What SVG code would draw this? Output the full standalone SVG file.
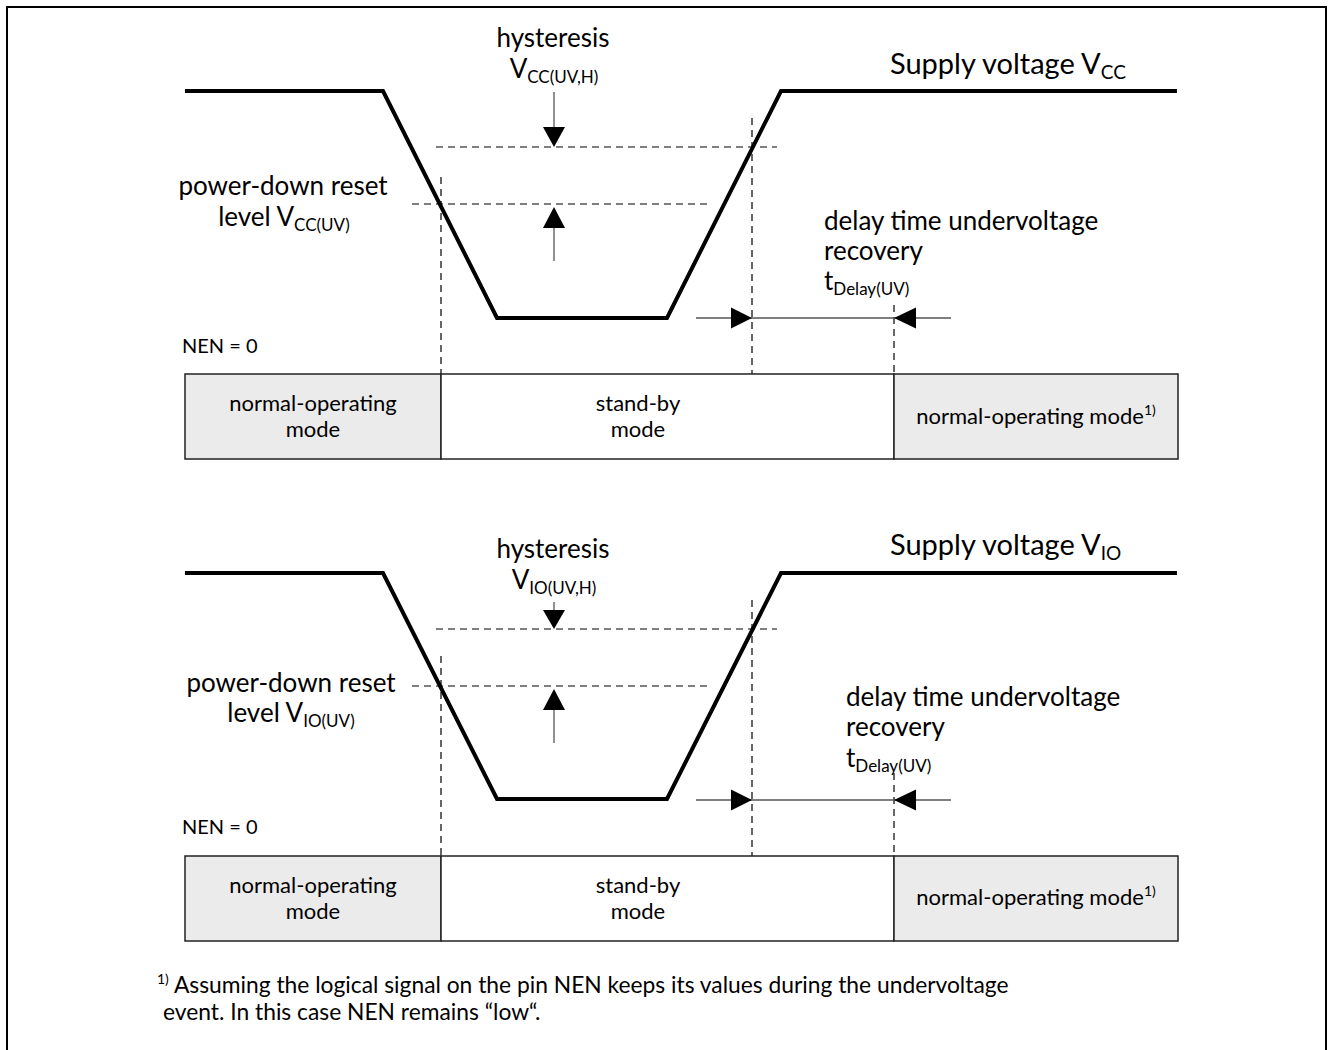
<svg xmlns="http://www.w3.org/2000/svg" width="1333" height="1050" viewBox="0 0 1333 1050">
<style>
text{font-family:Lato,"Liberation Sans",sans-serif;fill:#000}
.lbl{font-size:26px}
.big{font-size:29px}
.box{font-size:22px}
.nen{font-size:20px}
.fn{font-size:22.8px}
.wave{fill:none;stroke:#000;stroke-width:4;stroke-linejoin:miter}
.dash{fill:none;stroke:#000;stroke-width:1.2;stroke-dasharray:7 5}
.thin{fill:none;stroke:#555;stroke-width:1.3}
.head{fill:#000}
.gray{fill:#ebebeb;stroke:#222;stroke-width:1.5}
.white{fill:#fff;stroke:#222;stroke-width:1.5}
.mid{text-anchor:middle}
</style>
<rect x="0" y="0" width="1333" height="1050" fill="#fff"/>
<g id="frame"><path d="M7,1050 V7 H1326 V1050" fill="none" stroke="#000" stroke-width="2"/></g>

<!-- ===== TOP PANEL ===== -->
<g id="vcc-waveform"><path class="wave" d="M185,91 H383 L497,318 H667 L781,91 H1177"/></g>
<g id="top-connectors">
  <line class="dash" x1="436" y1="147" x2="777" y2="147"/>
  <line class="dash" x1="412" y1="204" x2="712" y2="204"/>
  <line class="dash" x1="441" y1="177" x2="441" y2="374"/>
  <line class="dash" x1="752" y1="118" x2="752" y2="374"/>
  <line class="dash" x1="894" y1="305" x2="894" y2="374"/>
  <line class="thin" x1="554" y1="92" x2="554" y2="128"/>
  <polygon class="head" points="543,127 565,127 554,147"/>
  <line class="thin" x1="554" y1="227" x2="554" y2="261"/>
  <polygon class="head" points="543,228 565,228 554,207"/>
  <line class="thin" x1="696" y1="318" x2="951" y2="318"/>
  <polygon class="head" points="731,307.5 731,328.5 752,318"/>
  <polygon class="head" points="916,307.5 916,328.5 894,318"/>
</g>
<g id="top-labels">
  <text class="lbl mid" x="553" y="47">hysteresis</text>
  <text class="lbl mid" x="554" y="78">V<tspan font-size="17" dy="5">CC(UV,H)</tspan></text>
  <text class="big" x="890" y="74">Supply voltage V<tspan font-size="19" dy="5">CC</tspan></text>
  <text class="lbl mid" x="283" y="195">power-down reset</text>
  <text class="lbl mid" x="284" y="226">level V<tspan font-size="17" dy="5">CC(UV)</tspan></text>
  <text class="lbl" x="824" y="230">delay time undervoltage</text>
  <text class="lbl" x="824" y="260">recovery</text>
  <text class="lbl" x="824" y="290">t<tspan font-size="17" dy="5">Delay(UV)</tspan></text>
  <text class="nen" x="182" y="353">NEN = 0</text>
</g>
<g id="top-mode-normal1">
  <rect class="gray" x="185" y="374" width="256" height="85"/>
  <text class="box mid" x="313" y="411">normal-operating</text>
  <text class="box mid" x="313" y="437">mode</text>
</g>
<g id="top-mode-standby">
  <rect class="white" x="441" y="374" width="453" height="85"/>
  <text class="box mid" x="638" y="411">stand-by</text>
  <text class="box mid" x="638" y="437">mode</text>
</g>
<g id="top-mode-normal2">
  <rect class="gray" x="894" y="374" width="284" height="85"/>
  <text class="box mid" x="1036" y="424">normal-operating mode<tspan font-size="14" dy="-9">1)</tspan></text>
</g>

<!-- ===== BOTTOM PANEL ===== -->
<g id="vio-waveform"><path class="wave" d="M185,573 H383 L497,799 H667 L781,573 H1177"/></g>
<g id="bottom-connectors">
  <line class="dash" x1="436" y1="629" x2="777" y2="629"/>
  <line class="dash" x1="412" y1="686" x2="708" y2="686"/>
  <line class="dash" x1="441" y1="656" x2="441" y2="856"/>
  <line class="dash" x1="752" y1="600" x2="752" y2="856"/>
  <line class="dash" x1="894" y1="773" x2="894" y2="856"/>
  <line class="thin" x1="554" y1="602" x2="554" y2="611"/>
  <polygon class="head" points="543,610 565,610 554,629"/>
  <line class="thin" x1="554" y1="709" x2="554" y2="743"/>
  <polygon class="head" points="543,710 565,710 554,689"/>
  <line class="thin" x1="696" y1="800" x2="951" y2="800"/>
  <polygon class="head" points="731,789.5 731,810.5 752,800"/>
  <polygon class="head" points="916,789.5 916,810.5 894,800"/>
</g>
<g id="bottom-labels">
  <text class="lbl mid" x="553" y="558">hysteresis</text>
  <text class="lbl mid" x="554" y="589">V<tspan font-size="17" dy="5">IO(UV,H)</tspan></text>
  <text class="big" x="890" y="555">Supply voltage V<tspan font-size="19" dy="5">IO</tspan></text>
  <text class="lbl mid" x="291" y="692">power-down reset</text>
  <text class="lbl mid" x="291" y="722">level V<tspan font-size="17" dy="5">IO(UV)</tspan></text>
  <text class="lbl" x="846" y="706">delay time undervoltage</text>
  <text class="lbl" x="846" y="736">recovery</text>
  <text class="lbl" x="846" y="767">t<tspan font-size="17" dy="5">Delay(UV)</tspan></text>
  <text class="nen" x="182" y="834">NEN = 0</text>
</g>
<g id="bottom-mode-normal1">
  <rect class="gray" x="185" y="856" width="256" height="85"/>
  <text class="box mid" x="313" y="893">normal-operating</text>
  <text class="box mid" x="313" y="919">mode</text>
</g>
<g id="bottom-mode-standby">
  <rect class="white" x="441" y="856" width="453" height="85"/>
  <text class="box mid" x="638" y="893">stand-by</text>
  <text class="box mid" x="638" y="919">mode</text>
</g>
<g id="bottom-mode-normal2">
  <rect class="gray" x="894" y="856" width="284" height="85"/>
  <text class="box mid" x="1036" y="905">normal-operating mode<tspan font-size="14" dy="-9">1)</tspan></text>
</g>

<g id="footnote">
  <text class="fn" x="157" y="993"><tspan font-size="14" dy="-9">1)</tspan><tspan dy="9"> Assuming the logical signal on the pin NEN keeps its values during the undervoltage</tspan></text>
  <text class="fn" x="163" y="1020">event. In this case NEN remains “low“.</text>
</g>
</svg>
